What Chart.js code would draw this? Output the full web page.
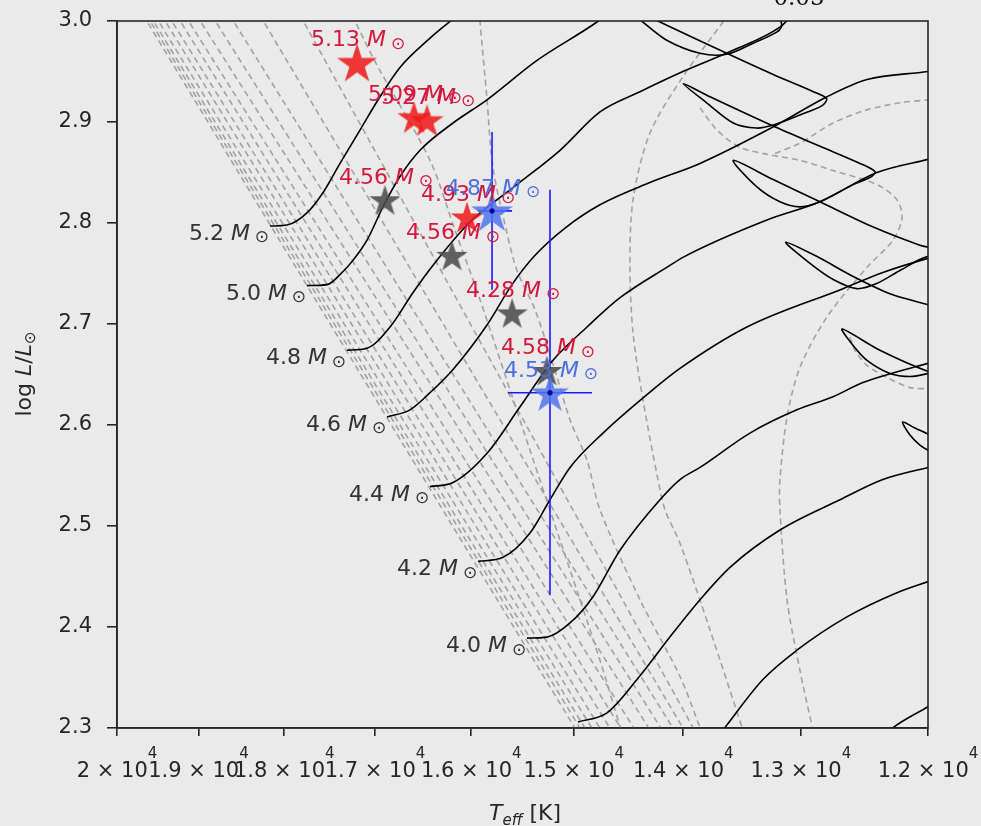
<!DOCTYPE html>
<html>
<head>
<meta charset="utf-8">
<title>HR diagram</title>
<script src="https://cdn.jsdelivr.net/npm/chart.js@4.4.1/dist/chart.umd.min.js"></script>
<style>
  html, body { margin: 0; padding: 0; background: #eaeaea; }
  canvas { display: block; }
</style>
</head>
<body>
<canvas id="hrChart" width="981" height="826"></canvas>
<script>
// evolutionary tracks: Teff [K] and log L/Lsun, starting at the ZAMS
const trackMasses = ['5.2', '5.0', '4.8', '4.6', '4.4', '4.2', '4.0'];

const t52T = [18163, 17969, 17745, 17567, 17379, 17162, 16947, 16735, 16421, 16196, 16064];
const t52L = [2.797, 2.798, 2.810, 2.830, 2.859, 2.892, 2.925, 2.954, 2.983, 3.001, 3.011];

const t50T = [17745, 17522, 17346, 17238, 17086, 16915, 16735, 16525, 16185, 15842, 15351, 14782, 14661];
const t50L = [2.738, 2.739, 2.752, 2.763, 2.783, 2.816, 2.846, 2.872, 2.899, 2.922, 2.961, 2.999, 3.009];

const t48T = [17303, 17086, 16840, 16599, 16400, 16013, 15585, 15130, 14754, 14387, 14003, 13568, 13173, 13090];
const t48L = [2.674, 2.676, 2.697, 2.731, 2.757, 2.801, 2.835, 2.872, 2.910, 2.930, 2.950, 2.971, 2.994, 3.003];

const t46T = [16872, 16630, 16421, 16185, 15842, 15595, 15370, 15082, 14754, 14297, 13853, 13231, 12788, 12470, 12000, 11910];
const t46L = [2.608, 2.615, 2.632, 2.655, 2.699, 2.739, 2.768, 2.795, 2.818, 2.840, 2.859, 2.895, 2.925, 2.942, 2.950, 2.952];

const t44T = [16421, 16185, 15842, 15516, 15197, 14875, 14569, 14118, 14003, 13281, 12845, 12392, 12000, 11910];
const t44L = [2.539, 2.543, 2.572, 2.618, 2.664, 2.697, 2.726, 2.758, 2.766, 2.803, 2.821, 2.850, 2.863, 2.866];

const t42T = [15932, 15683, 15419, 15226, 15035, 14726, 14270, 14029, 13450, 12660, 12346, 12000, 11910];
const t42L = [2.465, 2.469, 2.493, 2.526, 2.558, 2.592, 2.635, 2.656, 2.697, 2.735, 2.751, 2.765, 2.768];

const t40T = [15448, 15255, 15035, 14819, 14569, 14207, 14029, 13853, 13424, 13033, 12740, 12502, 12000, 11910];
const t40L = [2.389, 2.390, 2.404, 2.430, 2.476, 2.526, 2.546, 2.558, 2.592, 2.615, 2.628, 2.642, 2.661, 2.664];

const t38T = [14960, 14689, 14414, 14091, 13853, 13594, 13173, 12684, 12346, 12000, 11910];
const t38L = [2.306, 2.315, 2.348, 2.394, 2.427, 2.459, 2.496, 2.526, 2.546, 2.558, 2.561];

const t36T = [13723, 13654, 13315, 13033, 12629, 12237, 12000, 11910];
const t36L = [2.288, 2.298, 2.348, 2.377, 2.410, 2.434, 2.445, 2.449];

const t34T = [12369, 12291, 12000, 11910];
const t34L = [2.288, 2.298, 2.321, 2.328];

// blue loops in the upper right
const loopAT = [14478, 14360, 14147, 13853, 13622, 13396, 13200, 13159, 13173, 13198];
const loopAL = [3.011, 2.999, 2.981, 2.968, 2.967, 2.978, 2.989, 2.995, 3.003, 3.011];

const loopZT = [14387, 14207, 13622, 13229, 12899, 12791, 12831, 13008, 13229, 13368,
                13566, 13795, 14000, 13766, 13229, 12845, 12525, 12408, 12434, 12579,
                12845, 13008, 13173, 13368, 13566, 13229, 12845, 12421, 12061, 11900,
                11900, 12000, 12214, 12395, 12551, 12738, 12926, 13126, 12872, 12579,
                12291, 12000, 11910];
const loopZL = [3.009, 2.999, 2.968, 2.947, 2.930, 2.923, 2.916, 2.907, 2.897, 2.894,
                2.899, 2.919, 2.938, 2.925, 2.896, 2.876, 2.859, 2.851, 2.846, 2.838,
                2.821, 2.816, 2.821, 2.836, 2.862, 2.843, 2.821, 2.796, 2.778, 2.772,
                2.762, 2.767, 2.753, 2.740, 2.735, 2.744, 2.760, 2.781, 2.767, 2.747,
                2.730, 2.719, 2.715];

const loopET = [11910, 12000, 12369, 12666, 12581, 12470, 12291, 12137, 12000, 11910];
const loopEL = [2.652, 2.653, 2.674, 2.695, 2.679, 2.664, 2.651, 2.648, 2.651, 2.655];

const loopFT = [11910, 12000, 12099, 12193, 12137, 12061, 12000, 11910];
const loopFL = [2.585, 2.591, 2.597, 2.603, 2.590, 2.580, 2.575, 2.570];

// dashed isochrones: near-ZAMS fan (top / bottom end points)
const fanTopT = [19674, 19633, 19592, 19531, 19448, 19367, 19266, 19165, 19024, 18845, 18630, 18281, 17823];
const fanBotT = [14960, 14913, 14866, 14801, 14726, 14634, 14533, 14414, 14279, 14171, 14064, 13976, 13888];
const fanTopL = 3.006;
const fanBotL = 2.295;

const isoC1T = [15922, 15912, 15842, 15783, 15644, 15546, 15370, 15178, 15035, 14875, 14754, 14387, 14029, 13853, 13836];
const isoC1L = [3.011, 2.999, 2.922, 2.855, 2.790, 2.753, 2.714, 2.654, 2.605, 2.565, 2.516, 2.427, 2.351, 2.300, 2.293];

const isoC2T = [17248, 16989, 16421, 16165, 15912, 15419, 15130, 14754, 14551];
const isoC2L = [3.006, 2.958, 2.862, 2.793, 2.724, 2.575, 2.486, 2.367, 2.295];

const arc1T = [13551, 13654, 14002, 14297, 14450, 14478, 14450, 14360, 14225, 14162, 14029, 13766, 13483, 13466];
const arc1L = [3.016, 2.999, 2.945, 2.889, 2.823, 2.756, 2.691, 2.625, 2.546, 2.516, 2.483, 2.397, 2.298, 2.293];

const arc2T = [13853, 13706, 13509, 13281, 13008, 12740, 12392, 12237, 12198, 12267, 12471, 12788, 13008, 13114, 13173, 13173, 13114, 13008, 12901, 12885];
const arc2L = [2.914, 2.892, 2.875, 2.868, 2.862, 2.852, 2.838, 2.823, 2.805, 2.783, 2.756, 2.707, 2.657, 2.608, 2.546, 2.516, 2.427, 2.357, 2.298, 2.293];

const arc3T = [11910, 12000, 12214, 12471, 12740, 13008, 13231];
const arc3L = [2.924, 2.922, 2.919, 2.912, 2.899, 2.879, 2.868];

const arc4T = [12605, 12565, 12471, 12314, 12137, 12000, 11910];
const arc4L = [2.687, 2.674, 2.659, 2.647, 2.637, 2.636, 2.636];

// observed stars
const redNames = ['5.13', '5.09', '5.27', '4.93'];
const redT = [17194, 16588, 16452, 16043];
const redL = [2.959, 2.905, 2.902, 2.806];

const grayNames = ['4.56', '4.56', '4.28', '4.58'];
const grayT = [16894, 16196, 15594, 15255];
const grayL = [2.823, 2.768, 2.711, 2.654];

const blueNames = ['4.87', '4.53'];
const blueT = [15792, 15226];
const blueL = [2.812, 2.632];
const blueTcool = [15594, 14828];
const blueThot = [15932, 15634];
const blueLlow = [2.734, 2.432];
const blueLhigh = [2.890, 2.833];

const teffTicks = [20000, 19000, 18000, 17000, 16000, 15000, 14000, 13000, 12000];
const lumTicks = [2.3, 2.4, 2.5, 2.6, 2.7, 2.8, 2.9, 3.0];

// ---------------------------------------------------------------
function xy(T, L) {
  return T.map((t, i) => ({ x: t, y: L[i] }));
}

function starImage(r, color) {
  const s = Math.ceil(2 * r + 2);
  const c = document.createElement('canvas');
  c.width = s;
  c.height = s;
  const g = c.getContext('2d');
  g.fillStyle = color;
  g.beginPath();
  for (let i = 0; i < 10; i++) {
    const rr = i % 2 === 0 ? r : r * 0.382;
    const a = -Math.PI / 2 + i * Math.PI / 5;
    const px = s / 2 + rr * Math.cos(a);
    const py = s / 2 + 0.1 * r + rr * Math.sin(a);
    if (i === 0) g.moveTo(px, py); else g.lineTo(px, py);
  }
  g.closePath();
  g.fill();
  return c;
}

const track = (T, L) => ({
  data: xy(T, L), showLine: true, borderColor: '#000', borderWidth: 1.6,
  pointRadius: 0, cubicInterpolationMode: 'monotone', order: 5
});
const loop = (T, L) => ({
  data: xy(T, L), showLine: true, borderColor: '#000', borderWidth: 1.6,
  pointRadius: 0, tension: 0.3, order: 5
});
const dashed = (T, L) => ({
  data: xy(T, L), showLine: true, borderColor: '#a2a2a2', borderWidth: 1.6,
  borderDash: [6, 4], pointRadius: 0, tension: 0.3, order: 6
});

const datasets = [];
[[t52T, t52L], [t50T, t50L], [t48T, t48L], [t46T, t46L], [t44T, t44L],
 [t42T, t42L], [t40T, t40L], [t38T, t38L], [t36T, t36L], [t34T, t34L]]
  .forEach(([T, L]) => datasets.push(track(T, L)));
[[loopAT, loopAL], [loopZT, loopZL], [loopET, loopEL], [loopFT, loopFL]]
  .forEach(([T, L]) => datasets.push(loop(T, L)));

fanTopT.forEach((t, i) => datasets.push(dashed([t, fanBotT[i]], [fanTopL, fanBotL])));
[[isoC1T, isoC1L], [isoC2T, isoC2L], [arc1T, arc1L], [arc2T, arc2L], [arc3T, arc3L], [arc4T, arc4L]]
  .forEach(([T, L]) => datasets.push(dashed(T, L)));

// error bars of the two blue stars
blueT.forEach((t, i) => {
  datasets.push({ data: [{ x: t, y: blueLlow[i] }, { x: t, y: blueLhigh[i] }],
    showLine: true, borderColor: '#1a1aff', borderWidth: 1.6, pointRadius: 0, order: 3 });
  datasets.push({ data: [{ x: blueThot[i], y: blueL[i] }, { x: blueTcool[i], y: blueL[i] }],
    showLine: true, borderColor: '#1a1aff', borderWidth: 1.6, pointRadius: 0, order: 3 });
});

datasets.push({ data: xy(grayT, grayL), pointStyle: grayT.map(() => starImage(16.5, 'rgba(75,75,75,0.88)')), order: 2 });
datasets.push({ data: xy(redT, redL), pointStyle: [21, 17.5, 17.5, 17].map(r => starImage(r, 'rgba(238,22,22,0.85)')), order: 2 });
datasets.push({ data: xy(blueT, blueL), pointStyle: [22, 20].map(r => starImage(r, 'rgba(80,115,235,0.85)')), order: 1 });
datasets.push({ data: xy(blueT, blueL), pointStyle: 'circle', pointRadius: 2.6, backgroundColor: '#0a0aa0', borderWidth: 0, order: 0 });

// ---------------------------------------------------------------
const FONT = '"DejaVu Sans"';

function drawMass(g, num, cx, by, color) {
  // "num M(sun)" with the sun symbol centred at cx, text baseline at by
  g.fillStyle = color;
  g.textBaseline = 'alphabetic';
  g.font = 'italic 22px ' + FONT;
  const wM = g.measureText('M').width;
  const mRight = cx - 12;
  g.textAlign = 'right';
  g.fillText('M', mRight, by);
  g.font = '22px ' + FONT;
  g.fillText(num + ' ', mRight - wM, by);
  g.font = '17px ' + FONT;
  g.textAlign = 'center';
  g.textBaseline = 'middle';
  g.fillText('\u2299', cx, by - 2);
}

function drawParts(g, parts, x0, base) {
  let x = x0;
  parts.forEach(p => { g.font = p[0]; g.fillText(p[1], x, base + p[2]); x += g.measureText(p[1]).width; });
}
function partsWidth(g, parts) {
  let w = 0;
  parts.forEach(p => { g.font = p[0]; w += g.measureText(p[1]).width; });
  return w;
}

const decor = {
  id: 'decor',
  beforeDraw(chart) {
    const g = chart.ctx;
    g.save();
    g.fillStyle = '#eaeaea';
    g.fillRect(0, 0, chart.width, chart.height);
    g.restore();
  },
  afterDatasetsDraw(chart) {
    const g = chart.ctx;
    const xs = chart.scales.x, ys = chart.scales.y;
    const a = chart.chartArea;
    g.save();

    // track labels at the ZAMS end of each track
    const starts = [[t52T, t52L], [t50T, t50L], [t48T, t48L], [t46T, t46L], [t44T, t44L], [t42T, t42L], [t40T, t40L]];
    starts.forEach(([T, L], i) => {
      const zx = xs.getPixelForValue(T[0]);
      const zy = ys.getPixelForValue(L[0]);
      drawMass(g, trackMasses[i], zx - 8, zy + 14, '#333333');
    });

    // star labels
    const lab = (names, T, L, color) => names.forEach((n, i) => {
      const sx = xs.getPixelForValue(T[i]);
      const sy = ys.getPixelForValue(L[i]);
      drawMass(g, n, sx + 41, sy - 16, color);
    });
    lab(redNames, redT, redL, '#d4173d');
    lab(grayNames, grayT, grayL, '#d4173d');
    lab(blueNames, blueT, blueL, '#4a6fe0');

    // frame
    g.strokeStyle = '#262626';
    g.lineWidth = 1.6;
    g.strokeRect(a.left, a.top, a.right - a.left, a.bottom - a.top);
    g.restore();
  },
  afterDraw(chart) {
    const g = chart.ctx;
    const xs = chart.scales.x;
    const a = chart.chartArea;
    g.save();
    g.fillStyle = '#262626';
    g.textBaseline = 'alphabetic';
    g.textAlign = 'left';

    // x tick labels  "m x 10^4"
    teffTicks.forEach(v => {
      const px = xs.getPixelForValue(v);
      const parts = [['21px ' + FONT, String(v / 10000) + ' \u00d7 10', 0], ['15px ' + FONT, '4', -19]];
      const w = partsWidth(g, parts);
      drawParts(g, parts, px - w / 2, a.bottom + 49);
    });

    // x title
    const xt = [['italic 22px ' + FONT, 'T', 0], ['italic 15px ' + FONT, 'eff', 5], ['22px ' + FONT, ' [K]', 0]];
    drawParts(g, xt, 525 - partsWidth(g, xt) / 2, 820);

    // y title
    g.translate(24, 374);
    g.rotate(-Math.PI / 2);
    const yt = [['22px ' + FONT, 'log ', 0], ['italic 22px ' + FONT, 'L', 0], ['22px ' + FONT, '/', 0],
                ['italic 22px ' + FONT, 'L', 0], ['15px ' + FONT, '\u2299', 4]];
    drawParts(g, yt, -partsWidth(g, yt) / 2, 7);
    g.setTransform(1, 0, 0, 1, 0, 0);

    // cut-off title at the top
    g.font = '23px "DejaVu Serif"';
    g.textAlign = 'center';
    g.fillStyle = '#111';
    g.fillText('0.05', 799, 5);
    g.restore();
  }
};

new Chart(document.getElementById('hrChart'), {
  type: 'scatter',
  data: { datasets },
  options: {
    responsive: false,
    animation: false,
    events: [],
    layout: { padding: { left: 0, right: 53, top: 21, bottom: 0 } },
    plugins: { legend: { display: false }, tooltip: { enabled: false } },
    scales: {
      x: {
        type: 'logarithmic',
        reverse: true,
        min: 12000,
        max: 20000,
        afterBuildTicks: s => { s.ticks = teffTicks.map(v => ({ value: v })); },
        afterFit: s => { s.height = 98; s.paddingLeft = 0; s.paddingRight = 0; },
        ticks: { display: false },
        grid: { drawOnChartArea: false, drawTicks: true, tickLength: 8, color: '#262626', lineWidth: 1.6 },
        border: { color: '#262626', width: 1.6 }
      },
      y: {
        min: 2.3,
        max: 3.0,
        afterBuildTicks: s => { s.ticks = lumTicks.map(v => ({ value: v })); },
        afterFit: s => { s.width = 117; s.paddingTop = 0; s.paddingBottom = 0; },
        ticks: {
          callback: v => Number(v).toFixed(1),
          font: { family: 'DejaVu Sans', size: 21 },
          color: '#262626',
          padding: 15
        },
        grid: { drawOnChartArea: false, drawTicks: true, tickLength: 10, color: '#262626', lineWidth: 1.6 },
        border: { color: '#262626', width: 1.6 }
      }
    }
  },
  plugins: [decor]
});
</script>
</body>
</html>
